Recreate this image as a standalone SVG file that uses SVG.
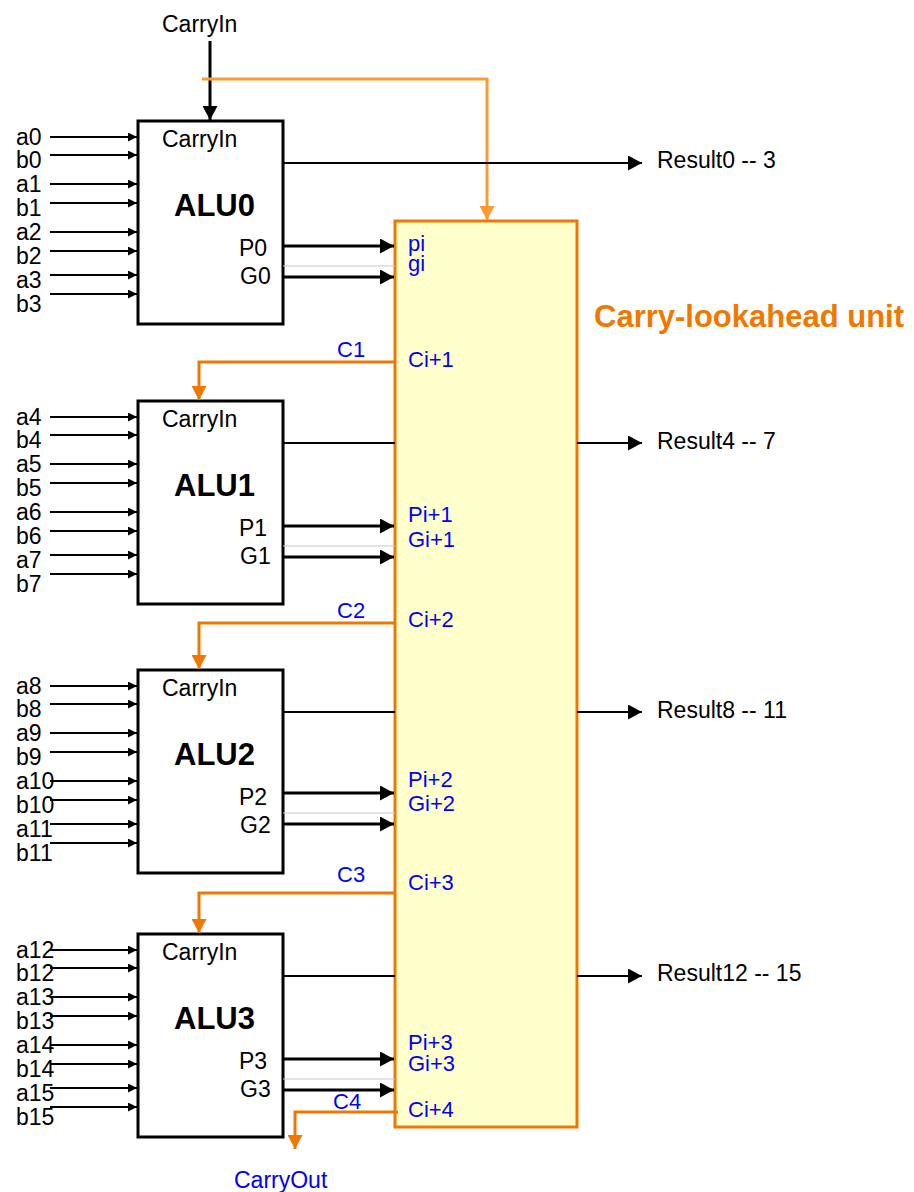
<svg xmlns="http://www.w3.org/2000/svg" width="914" height="1192" viewBox="0 0 914 1192">
<style>
text{font-family:"Liberation Sans",Arial,sans-serif}
.t{font-size:23px;fill:#000}
.bl{font-size:22px;fill:#0000FF}
.co{font-size:23px;fill:#0000FF}
.alu{font-size:31px;font-weight:bold;fill:#000}
.cla{font-size:31px;font-weight:bold;fill:#F07800}
.box{fill:#fff;stroke:#000;stroke-width:3}
.clabox{fill:#FFFFCC;stroke:#F07800;stroke-width:3}
.in{stroke:#000;stroke-width:2;fill:none;marker-end:url(#ms)}
.pg{stroke:#000;stroke-width:3;fill:none;marker-end:url(#mb)}
.out{stroke:#000;stroke-width:2;fill:none}
.res{stroke:#000;stroke-width:2;fill:none;marker-end:url(#mb)}
.gray{stroke:#C8C8C8;stroke-width:1;fill:none}
.oc{stroke:#F07800;stroke-width:3;fill:none;marker-end:url(#mo)}
.ol{stroke:#FF9933;stroke-width:3;fill:none;marker-end:url(#ml)}
</style>
<defs>
<marker id="ms" markerUnits="userSpaceOnUse" markerWidth="10" markerHeight="9" refX="9" refY="4.5" orient="auto"><path d="M0,0 L9,4.5 L0,9 z" fill="#000"/></marker>
<marker id="mb" markerUnits="userSpaceOnUse" markerWidth="15" markerHeight="15" refX="14" refY="7.5" orient="auto"><path d="M0,0 L14,7.5 L0,15 z" fill="#000"/></marker>
<marker id="mo" markerUnits="userSpaceOnUse" markerWidth="15" markerHeight="15" refX="14" refY="7.5" orient="auto"><path d="M0,0 L14,7.5 L0,15 z" fill="#F07800"/></marker>
<marker id="ml" markerUnits="userSpaceOnUse" markerWidth="15" markerHeight="15" refX="14" refY="7.5" orient="auto"><path d="M0,0 L14,7.5 L0,15 z" fill="#FF9933"/></marker>
</defs>

<g id="cla">
<rect class="clabox" x="395" y="221" width="182" height="906"/>
<text class="bl" x="408" y="251">pi</text>
<text class="bl" x="408" y="271">gi</text>
<text class="bl" x="408" y="367">Ci+1</text>
<text class="bl" x="408" y="522">Pi+1</text>
<text class="bl" x="408" y="547">Gi+1</text>
<text class="bl" x="408" y="627">Ci+2</text>
<text class="bl" x="408" y="787">Pi+2</text>
<text class="bl" x="408" y="811">Gi+2</text>
<text class="bl" x="408" y="890">Ci+3</text>
<text class="bl" x="408" y="1050">Pi+3</text>
<text class="bl" x="408" y="1071">Gi+3</text>
<text class="bl" x="408" y="1117">Ci+4</text>
<text class="cla" x="594" y="327">Carry-lookahead unit</text>
</g>

<g id="alu0">
<rect class="box" x="138" y="121" width="145" height="203"/>
<text class="t" x="162" y="147">CarryIn</text>
<text class="alu" x="174" y="216">ALU0</text>
<text class="t" x="239" y="256">P0</text>
<text class="t" x="240" y="284">G0</text>
<text class="t" x="16" y="145">a0</text>
<text class="t" x="16" y="168">b0</text>
<text class="t" x="16" y="192">a1</text>
<text class="t" x="16" y="216">b1</text>
<text class="t" x="16" y="240">a2</text>
<text class="t" x="16" y="264">b2</text>
<text class="t" x="16" y="288">a3</text>
<text class="t" x="16" y="312">b3</text>
</g>

<g id="alu1">
<rect class="box" x="138" y="401" width="145" height="203"/>
<text class="t" x="162" y="427">CarryIn</text>
<text class="alu" x="174" y="496">ALU1</text>
<text class="t" x="239" y="536">P1</text>
<text class="t" x="240" y="564">G1</text>
<text class="t" x="16" y="425">a4</text>
<text class="t" x="16" y="448">b4</text>
<text class="t" x="16" y="472">a5</text>
<text class="t" x="16" y="496">b5</text>
<text class="t" x="16" y="520">a6</text>
<text class="t" x="16" y="544">b6</text>
<text class="t" x="16" y="568">a7</text>
<text class="t" x="16" y="592">b7</text>
</g>

<g id="alu2">
<rect class="box" x="138" y="670" width="145" height="203"/>
<text class="t" x="162" y="696">CarryIn</text>
<text class="alu" x="174" y="765">ALU2</text>
<text class="t" x="239" y="805">P2</text>
<text class="t" x="240" y="833">G2</text>
<text class="t" x="16" y="694">a8</text>
<text class="t" x="16" y="717">b8</text>
<text class="t" x="16" y="741">a9</text>
<text class="t" x="16" y="765">b9</text>
<text class="t" x="16" y="789">a10</text>
<text class="t" x="16" y="813">b10</text>
<text class="t" x="16" y="837">a11</text>
<text class="t" x="16" y="861">b11</text>
</g>

<g id="alu3">
<rect class="box" x="138" y="934" width="145" height="203"/>
<text class="t" x="162" y="960">CarryIn</text>
<text class="alu" x="174" y="1029">ALU3</text>
<text class="t" x="239" y="1069">P3</text>
<text class="t" x="240" y="1097">G3</text>
<text class="t" x="16" y="958">a12</text>
<text class="t" x="16" y="981">b12</text>
<text class="t" x="16" y="1005">a13</text>
<text class="t" x="16" y="1029">b13</text>
<text class="t" x="16" y="1053">a14</text>
<text class="t" x="16" y="1077">b14</text>
<text class="t" x="16" y="1101">a15</text>
<text class="t" x="16" y="1125">b15</text>
</g>

<g id="labels">
<text class="t" x="162" y="32">CarryIn</text>
<text class="t" x="657" y="168">Result0 -- 3</text>
<text class="t" x="657" y="449">Result4 -- 7</text>
<text class="t" x="657" y="718">Result8 -- 11</text>
<text class="t" x="657" y="981">Result12 -- 15</text>
<text class="bl" x="337" y="357">C1</text>
<text class="bl" x="337" y="618">C2</text>
<text class="bl" x="337" y="882">C3</text>
<text class="bl" x="333" y="1109">C4</text>
<text class="co" x="234" y="1188">CarryOut</text>
</g>

<g id="connectors">
<path class="in" d="M50,137H137"/><path class="in" d="M50,155H137"/>
<path class="in" d="M50,184H137"/><path class="in" d="M50,203H137"/>
<path class="in" d="M50,232H137"/><path class="in" d="M50,251H137"/>
<path class="in" d="M50,275H137"/><path class="in" d="M50,294H137"/>
<path class="in" d="M50,417H137"/><path class="in" d="M50,435H137"/>
<path class="in" d="M50,464H137"/><path class="in" d="M50,483H137"/>
<path class="in" d="M50,512H137"/><path class="in" d="M50,531H137"/>
<path class="in" d="M50,555H137"/><path class="in" d="M50,574H137"/>
<path class="in" d="M50,686H137"/><path class="in" d="M50,704H137"/>
<path class="in" d="M50,733H137"/><path class="in" d="M50,752H137"/>
<path class="in" d="M50,781H137"/><path class="in" d="M50,800H137"/>
<path class="in" d="M50,824H137"/><path class="in" d="M50,843H137"/>
<path class="in" d="M50,950H137"/><path class="in" d="M50,968H137"/>
<path class="in" d="M50,997H137"/><path class="in" d="M50,1016H137"/>
<path class="in" d="M50,1045H137"/><path class="in" d="M50,1064H137"/>
<path class="in" d="M50,1088H137"/><path class="in" d="M50,1107H137"/>

<path class="pg" d="M210,41V120"/>
<path class="ol" d="M202,79H487V220"/>

<path class="pg" d="M283,246H394"/><path class="gray" d="M283,266H395"/><path class="pg" d="M283,277H394"/>
<path class="pg" d="M283,526H394"/><path class="gray" d="M283,546H395"/><path class="pg" d="M283,557H394"/>
<path class="pg" d="M283,793H394"/><path class="gray" d="M283,813H395"/><path class="pg" d="M283,824H394"/>
<path class="pg" d="M283,1059H394"/><path class="gray" d="M283,1079H395"/><path class="pg" d="M283,1090H394"/>

<path class="res" d="M283,163H642"/>
<path class="out" d="M283,443H395"/><path class="res" d="M577,443H642"/>
<path class="out" d="M283,712H395"/><path class="res" d="M577,712H642"/>
<path class="out" d="M283,976H395"/><path class="res" d="M577,976H642"/>

<path class="oc" d="M395,362H199V400"/>
<path class="oc" d="M395,623H199V669"/>
<path class="oc" d="M395,893H199V933"/>
<path class="oc" d="M398,1112H295V1149"/>
</g>
</svg>
